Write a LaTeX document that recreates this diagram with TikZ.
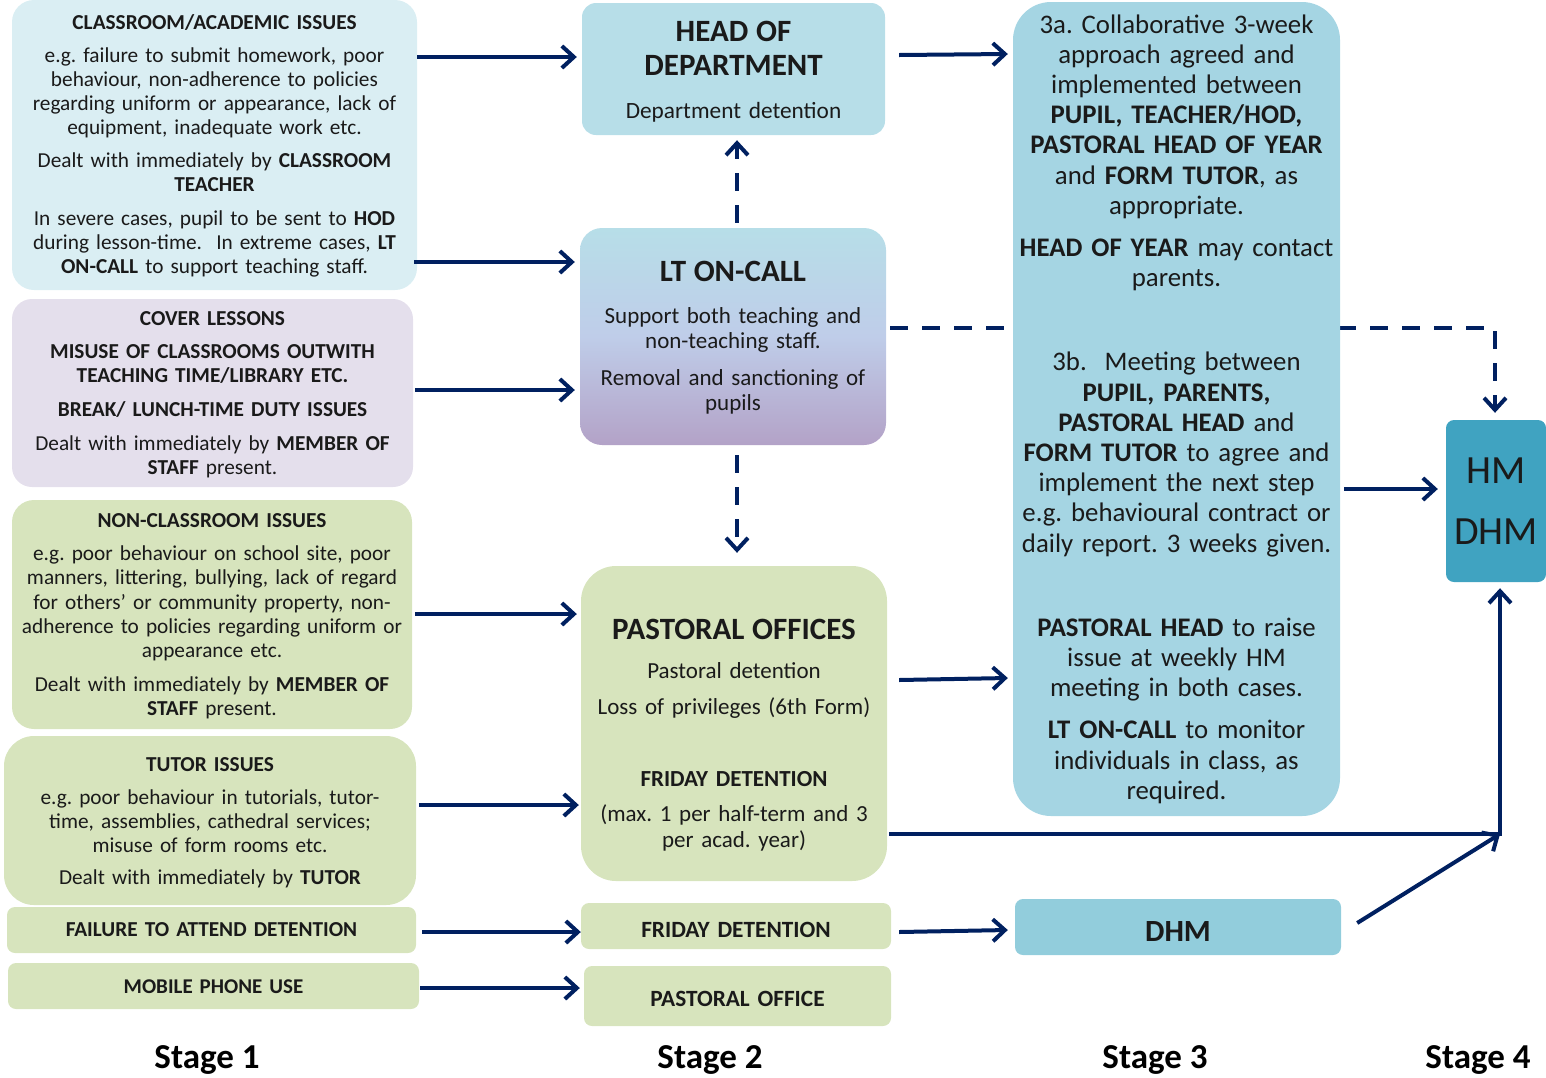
\documentclass[tikz,border=0pt]{standalone}
\usepackage{fontspec}
\setmainfont{Carlito}
\usetikzlibrary{arrows.meta,backgrounds,calc}
\definecolor{navy}{HTML}{002060}
\definecolor{txt}{HTML}{1A1A1A}
\definecolor{clsblue}{HTML}{DAEEF3}
\definecolor{lav}{HTML}{E4DFEC}
\definecolor{grn}{HTML}{D7E4BD}
\definecolor{hodblue}{HTML}{B7DEE8}
\definecolor{ltbot}{HTML}{B3A2C7}
\definecolor{ltmid}{HTML}{BFCDE9}
\definecolor{sthree}{HTML}{A5D5E3}
\definecolor{dhmblue}{HTML}{92CDDC}
\definecolor{hmblue}{HTML}{40A3C1}
\newcommand{\myfs}[2]{\fontsize{#1}{#2}\selectfont}
\tikzset{
  boxbase/.style={draw=none, inner sep=0pt, align=center, text=txt},
  arr/.style={draw=navy, line width=4pt, -{Straight Barb[length=12pt,width=22pt]}},
  darr/.style={arr, dash pattern=on 18pt off 14pt},
  stagelbl/.style={inner sep=0pt, text=black, font=\myfs{35}{40}\bfseries},
}
\begin{document}
\frenchspacing
\begin{tikzpicture}[x=1pt,y=-1pt]
\useasboundingbox (0,0) rectangle (1546,1077);

% ---------- Stage 1 ----------
\node[boxbase, fill=clsblue, rounded corners=22pt, minimum width=405pt, minimum height=290pt, text width=400pt, font=\myfs{21.3}{24}] (cls) at (214.5,145)
{\textbf{CLASSROOM/ACADEMIC ISSUES}\\[9pt]
e.g. failure to submit homework, poor\\
behaviour, non-adherence to policies\\
regarding uniform or appearance, lack of\\
equipment, inadequate work etc.\\[9pt]
Dealt with immediately by \textbf{CLASSROOM}\\
\textbf{TEACHER}\\[10pt]
In severe cases, pupil to be sent to \textbf{HOD}\\
during lesson-time.\ \ In extreme cases, \textbf{LT}\\
\textbf{ON-CALL} to support teaching staff.\par\vspace{-2pt}};

\node[boxbase, fill=lav, rounded corners=20pt, minimum width=401pt, minimum height=188pt, text width=398pt, font=\myfs{21.3}{24}] (cov) at (212.5,393)
{\textbf{COVER LESSONS}\\[9pt]
\textbf{MISUSE OF CLASSROOMS OUTWITH}\\
\textbf{TEACHING TIME/LIBRARY ETC.}\\[10pt]
\textbf{BREAK/ LUNCH-TIME DUTY ISSUES}\\[10pt]
Dealt with immediately by \textbf{MEMBER OF}\\
\textbf{STAFF} present.\par\vspace{-4pt}};

\node[boxbase, fill=grn, rounded corners=22pt, minimum width=400pt, minimum height=229pt, text width=398pt, font=\myfs{21.3}{24.2}] (ncl) at (212,614.5)
{\textbf{NON-CLASSROOM ISSUES}\\[9pt]
e.g. poor behaviour on school site, poor\\
manners, littering, bullying, lack of regard\\
for others’ or community property, non-\\
adherence to policies regarding uniform or\\
appearance etc.\\[10pt]
Dealt with immediately by \textbf{MEMBER OF}\\
\textbf{STAFF} present.\par\vspace{-4pt}};

\node[boxbase, fill=grn, rounded corners=30pt, minimum width=412pt, minimum height=169pt, text width=406pt, font=\myfs{21.3}{24}] (tut) at (210,820.5)
{\textbf{TUTOR ISSUES}\\[9pt]
e.g. poor behaviour in tutorials, tutor-\\
time, assemblies, cathedral services;\\
misuse of form rooms etc.\\[8pt]
Dealt with immediately by \textbf{TUTOR}\par\vspace{-4pt}};

\node[boxbase, fill=grn, rounded corners=8pt, minimum width=409pt, minimum height=46pt, text width=400pt, font=\myfs{21.3}{24}\bfseries] (fail) at (211.5,930) {FAILURE TO ATTEND DETENTION};
\node[boxbase, fill=grn, rounded corners=8pt, minimum width=411pt, minimum height=46pt, text width=400pt, font=\myfs{21}{24}\bfseries] (mob) at (213.5,986) {MOBILE PHONE USE\rule{0pt}{15.5pt}};

% ---------- Stage 2 ----------
\node[boxbase, fill=hodblue, rounded corners=14pt, minimum width=303pt, minimum height=132pt, text width=300pt, font=\myfs{23.3}{25}] (hod) at (733.5,69)
{{\myfs{31}{34}\bfseries HEAD OF\\DEPARTMENT\par}\vspace{18pt}
Department detention\par\vspace{-5pt}};

\node[boxbase, top color=hodblue, bottom color=ltbot, middle color=ltmid, rounded corners=22pt, minimum width=306pt, minimum height=217pt, text width=302pt, font=\myfs{23}{25.5}] (lt) at (733,336.5)
{{\myfs{31}{34}\bfseries LT ON-CALL\par}\vspace{16.5pt}
Support both teaching and\\
non-teaching staff.\\[11pt]
Removal and sanctioning of\\
pupils\par\vspace{-2pt}};

\node[boxbase, fill=grn, rounded corners=35pt, minimum width=306pt, minimum height=315pt, text width=302pt, font=\myfs{23}{26}] (pas) at (734,723.5)
{{\myfs{31}{34}\bfseries PASTORAL OFFICES\par}\vspace{13pt}
Pastoral detention\\[10pt]
Loss of privileges (6th Form)\\[46pt]
\textbf{FRIDAY DETENTION}\\[9pt]
(max. 1 per half-term and 3\\
per acad. year)\par\vspace{-24pt}};

\node[boxbase, fill=grn, rounded corners=8pt, minimum width=310pt, minimum height=46pt, text width=304pt, font=\myfs{23.3}{26}\bfseries] (fri) at (736,926) {FRIDAY DETENTION\rule{0pt}{23pt}};
\node[boxbase, fill=grn, rounded corners=8pt, minimum width=307pt, minimum height=60pt, text width=304pt, font=\myfs{23.3}{26}\bfseries] (pso) at (737.5,996) {PASTORAL OFFICE\rule{0pt}{21pt}};

% ---------- Stage 3 ----------
\node[boxbase, fill=sthree, rounded corners=38pt, minimum width=327pt, minimum height=814pt, text width=327pt, font=\myfs{26.8}{30.2}] (s3) at (1176.5,409)
{3a. Collaborative 3-week\\
approach agreed and\\
implemented between\\
\textbf{PUPIL, TEACHER/HOD,}\\
\textbf{PASTORAL HEAD OF YEAR}\\
and \textbf{FORM TUTOR}, as\\
appropriate.\\[12pt]
\textbf{HEAD OF YEAR} may contact\\
parents.\\[54pt]
3b.\ \ Meeting between\\
\textbf{PUPIL, PARENTS,}\\
\textbf{PASTORAL HEAD} and\\
\textbf{FORM TUTOR} to agree and\\
implement the next step\\
e.g. behavioural contract or\\
daily report. 3 weeks given.\\[54pt]
\textbf{PASTORAL HEAD} to raise\\
issue at weekly HM\\
meeting in both cases.\\[12pt]
\textbf{LT ON-CALL} to monitor\\
individuals in class, as\\
required.};

\node[boxbase, fill=dhmblue, rounded corners=8pt, minimum width=326pt, minimum height=56pt, text width=320pt, font=\myfs{30.8}{34}\bfseries] (dhm) at (1178,927) {DHM\rule{0pt}{28pt}};

% ---------- Stage 4 ----------
\node[boxbase, fill=hmblue, rounded corners=8pt, minimum width=100pt, minimum height=162pt, text width=98pt, font=\myfs{40}{61}] (hm) at (1496,501) {HM\\DHM};

\coordinate (join) at (1500,834);

% ---------- Stage labels ----------
\node[stagelbl] (st1) at (207,1060) {Stage 1};
\node[stagelbl] (st2) at (710,1060) {Stage 2};
\node[stagelbl] (st3) at (1155,1060) {Stage 3};
\node[stagelbl] (st4) at (1478,1060) {Stage 4};

% ---------- Connectors ----------
\begin{pgfonlayer}{background}
\draw[darr] ([xshift=4pt,yshift=8.5pt]lt.east) -| ([xshift=-1pt,yshift=7pt]hm.north);
\end{pgfonlayer}

\draw[arr] ([yshift=88pt]cls.east) -- ([xshift=-5pt,yshift=12pt]hod.west);
\draw[arr] ([xshift=-3pt,yshift=-117pt]cls.east) -- ([xshift=-5pt,yshift=74.5pt]lt.west);
\draw[arr] ([xshift=2pt,yshift=3pt]cov.east) -- ([xshift=-5pt,yshift=-53.5pt]lt.west);
\draw[arr] ([xshift=3pt,yshift=0.5pt]ncl.east) -- ([xshift=-4pt,yshift=109.5pt]pas.west);
\draw[arr] ([xshift=3pt,yshift=15.5pt]tut.east) -- ([xshift=-2pt,yshift=-81.5pt]pas.west);
\draw[arr] ([xshift=6pt,yshift=-2pt]fail.east) -- ([yshift=-6pt]fri.west);
\draw[arr] ([xshift=1pt,yshift=-2pt]mob.east) -- ([xshift=-4pt,yshift=8pt]pso.west);

\draw[arr] ([xshift=14pt,yshift=14pt]hod.east) -- ([xshift=-5pt,yshift=355pt]s3.west);
\draw[arr] ([xshift=12pt,yshift=43.5pt]pas.east) -- ([xshift=-5pt,yshift=-269pt]s3.west);
\draw[arr] ([xshift=8pt,yshift=-6pt]fri.east) -- ([xshift=-7pt,yshift=-3pt]dhm.west);

\draw[darr] ([xshift=4pt,yshift=5pt]lt.north) -- ([xshift=3.5pt,yshift=-5pt]hod.south);
\draw[darr] ([xshift=4pt,yshift=-10pt]lt.south) -- ([xshift=3pt,yshift=13pt]pas.north);

\draw[arr] ([xshift=4pt,yshift=-80pt]s3.east) -- ([xshift=-8pt,yshift=12pt]hm.west);
\draw[arr] ([xshift=2pt,yshift=-110.5pt]pas.east) -| ([xshift=4pt,yshift=-6pt]hm.south);
\draw[arr] ([xshift=16pt,yshift=4pt]dhm.east) -- (join);
\end{tikzpicture}
\end{document}
